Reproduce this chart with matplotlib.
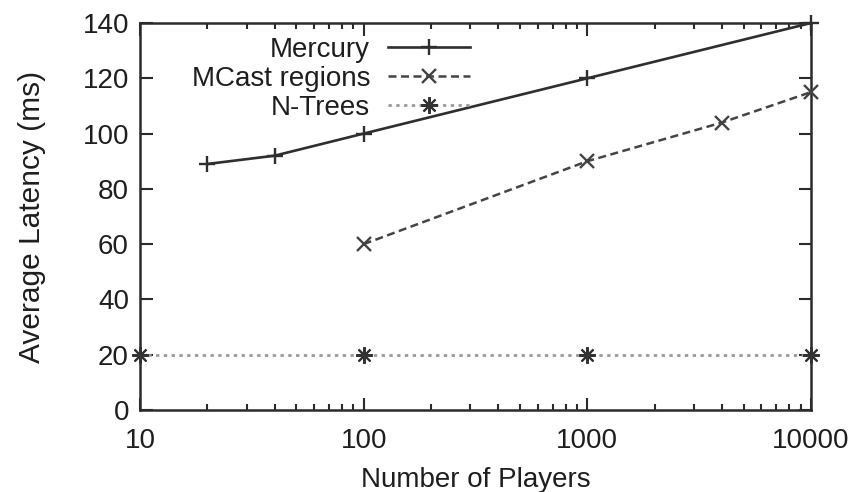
import matplotlib
matplotlib.use("Agg")
import matplotlib.pyplot as plt
from matplotlib.ticker import LogLocator, NullFormatter, FixedLocator, FixedFormatter

plt.rcParams['font.family'] = ['Liberation Sans', 'DejaVu Sans']

# Latency measurements per scheme
mercury_players = [20, 40, 100, 1000, 10000]
mercury_latency = [89, 92, 100, 120, 140]

mcast_players = [100, 1000, 4000, 10000]
mcast_latency = [60, 90, 104, 115]

ntrees_players = [10, 100, 1000, 10000]
ntrees_latency = [20, 20, 20, 20]

x_ticks = [10, 100, 1000, 10000]
x_tick_labels = ["10", "100", "1000", "10000"]
y_ticks = [0, 20, 40, 60, 80, 100, 120, 140]

ink = "#2b2b2b"
txt = "#1e1e1e"
fs = 20

fig = plt.figure(figsize=(8.56, 4.92), dpi=100)
ax = fig.add_axes([140/856, 82/492, 671/856, 387/492])

ax.plot(mercury_players, mercury_latency, color="#2e2e2e", lw=1.9,
        marker="+", ms=12, mew=1.7, label="Mercury", clip_on=False, zorder=3)
ax.plot(mcast_players, mcast_latency, color="#444444", lw=1.8,
        ls=(0, (3.2, 1.8)), marker="x", ms=10, mew=1.7, label="MCast regions",
        clip_on=False, zorder=3)
ax.plot(ntrees_players, ntrees_latency, color="#9a9a9a", lw=2.0,
        ls=(0, (1.2, 1.6)), marker=(8, 2, 0), ms=12, mew=1.5,
        mec="#333333", label="N-Trees", clip_on=False, zorder=3)

ax.set_xscale("log")
ax.set_xlim(10, 10000)
ax.set_ylim(0, 140)
ax.xaxis.set_major_locator(FixedLocator(x_ticks))
ax.xaxis.set_major_formatter(FixedFormatter(x_tick_labels))
ax.xaxis.set_minor_locator(LogLocator(base=10, subs=range(2, 10)))
ax.xaxis.set_minor_formatter(NullFormatter())
ax.set_yticks(y_ticks)

for s in ax.spines.values():
    s.set_color(ink)
    s.set_linewidth(1.8)

ax.tick_params(which="both", direction="in", top=True, right=True,
               color=ink, width=1.5, labelsize=fs, labelcolor=txt)
ax.tick_params(which="major", length=9)
ax.tick_params(which="minor", length=4.5)
ax.tick_params(axis="y", pad=8)
ax.tick_params(axis="x", pad=13)

ax.set_xlabel("Number of Players", fontsize=fs, color=txt, labelpad=9)
ax.set_ylabel("Average Latency (ms)", fontsize=21.5, color=txt, labelpad=26)

# gnuplot-style key: labels right-aligned, line samples after the text
leg = ax.legend(loc="upper right", bbox_to_anchor=(0.492, 0.965),
                frameon=False, markerfirst=False, fontsize=fs,
                handlelength=2.95, handletextpad=0.65, labelspacing=0.12,
                borderaxespad=0.0, borderpad=0.0)
for t in leg.get_texts():
    t.set_color(txt)

fig.savefig("out.png", dpi=100)
